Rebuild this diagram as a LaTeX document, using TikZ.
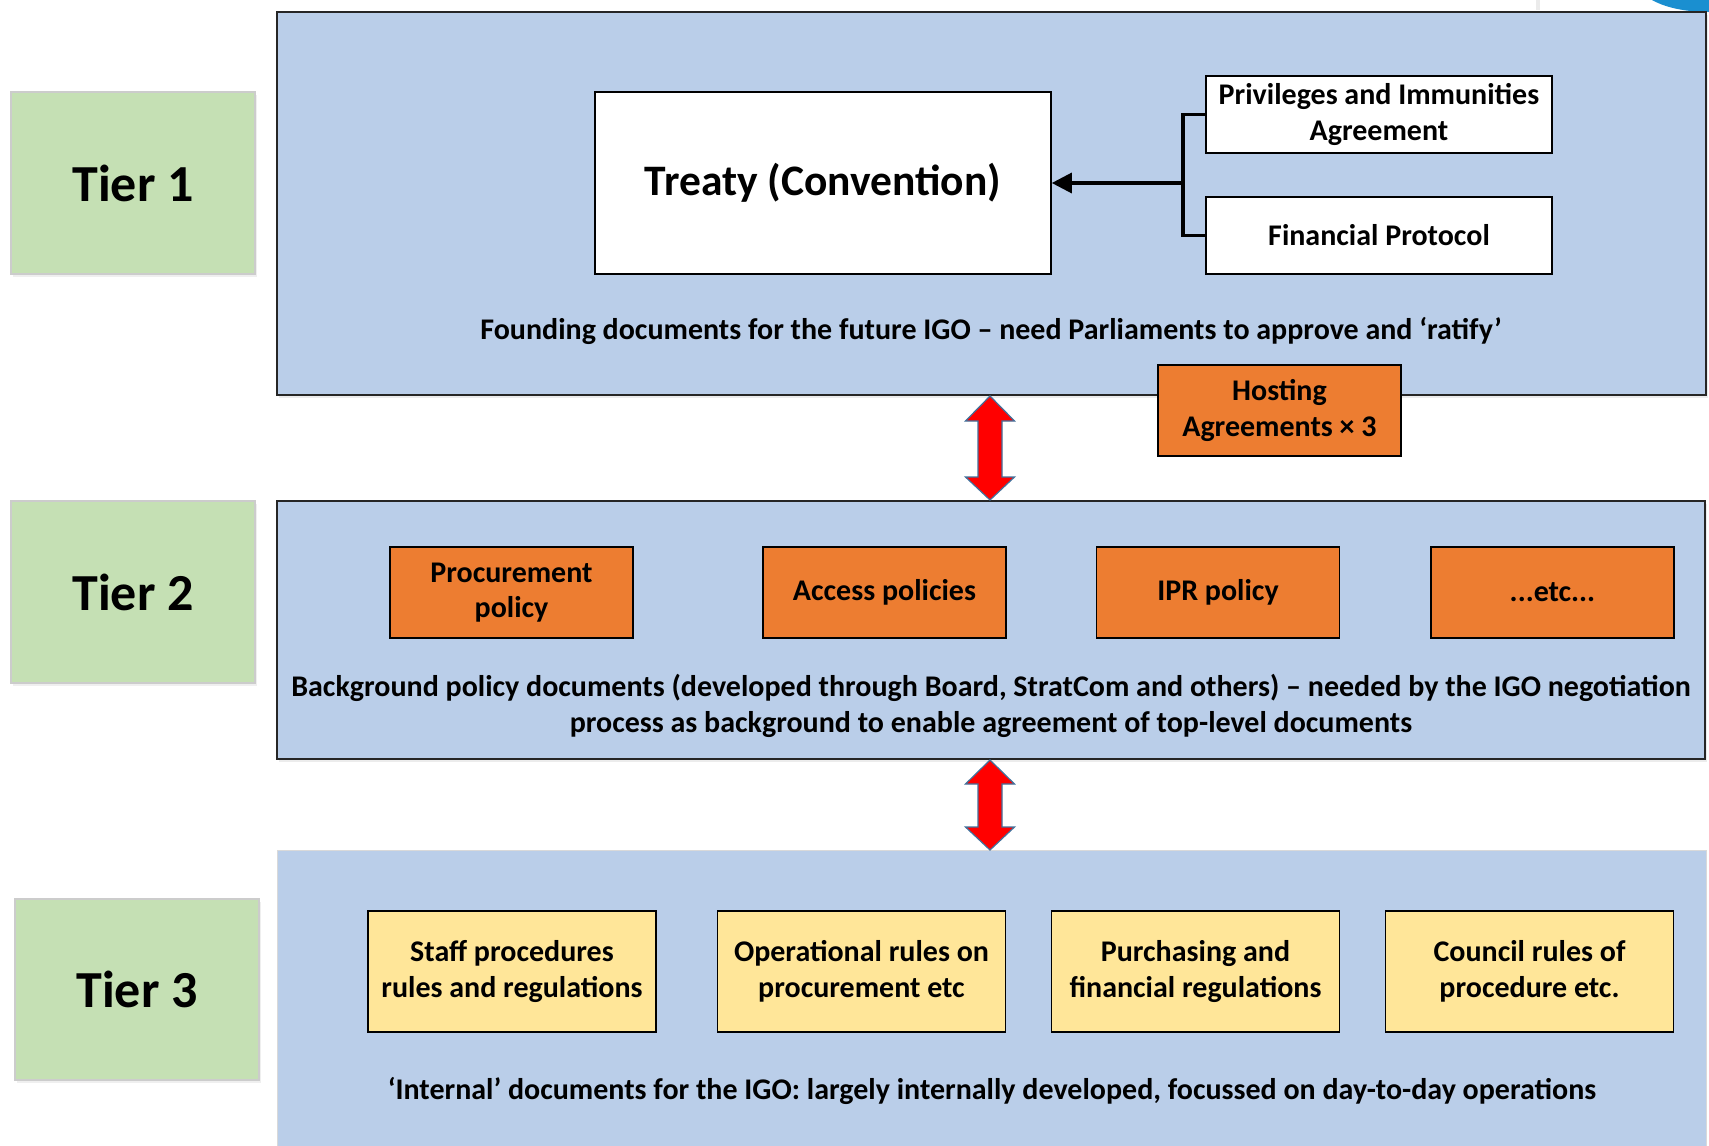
\documentclass[tikz,border=0pt]{standalone}
\usepackage{fontspec}
\setmainfont{Carlito}
\usetikzlibrary{arrows.meta,shadows}
\definecolor{tierblue}{HTML}{BACEE9}
\definecolor{tiergreen}{HTML}{C5E0B4}
\definecolor{orangebox}{HTML}{ED7D31}
\definecolor{yellowbox}{HTML}{FFE699}
\definecolor{arrowedge}{HTML}{41719C}
\definecolor{artblue}{HTML}{1A8FD0}
\begin{document}
\begin{tikzpicture}[x=1pt,y=-1pt,
  txt/.style={font=\bfseries\fontsize{30}{35.5}\selectfont, align=center, inner sep=0pt},
  panel/.style={fill=tierblue, draw=black!85, line width=1.6pt, drop shadow={opacity=0.15, shadow xshift=2pt, shadow yshift=-3pt}},
  tierbox/.style={fill=tiergreen, draw=black!20, line width=1.2pt, inner sep=0pt,
     font=\bfseries\fontsize{52}{60}\selectfont, drop shadow={opacity=0.12, shadow xshift=2pt, shadow yshift=-3pt}},
  wbox/.style={txt, fill=white, draw=black, line width=1.6pt},
  obox/.style={txt, fill=orangebox, draw=black, line width=1.6pt, minimum width=243pt, minimum height=91pt},
  ybox/.style={txt, fill=yellowbox, draw=black, line width=1.6pt, minimum width=288pt, minimum height=121pt},
  redarrow/.style={fill=red, draw=arrowedge, line width=1.2pt, line join=miter},
  conn/.style={line width=3.2pt, draw=black}
]
\useasboundingbox (0,0) rectangle (1709,1146);
\fill[white] (0,0) rectangle (1709,1146);

% artefact in the top-right corner
\fill[artblue] (1652,0) .. controls (1668,9) and (1690,12) .. (1709,12) -- (1709,0) -- cycle;
\fill[black!8] (1536,0) rectangle (1540,10);

% panels
\path[panel] (277,12) rectangle (1706,395);
\path[panel] (277,501) rectangle (1705,759);
\path[fill=tierblue, draw=black!15, line width=1pt] (277,850) rectangle (1706,1150);

% tier labels
\node[tierbox, minimum width=244pt, minimum height=182pt] (t1) at (133,183) {Tier 1};
\node[tierbox, minimum width=244pt, minimum height=182pt] (t2) at (133,592) {Tier 2};
\node[tierbox, minimum width=244pt, minimum height=181pt] (t3) at (137,989.5) {Tier 3};

% Tier 1 content
\node[wbox, minimum width=456pt, minimum height=182pt, font=\bfseries\fontsize{43.5}{50}\selectfont] (treaty) at (823,183) {Treaty (Convention)};
\node[wbox, minimum width=346pt, minimum height=77pt] (pia) at (1379,114.5) {Privileges and Immunities\\Agreement};
\node[wbox, minimum width=346pt, minimum height=77pt] (fp) at (1379,235.5) {Financial Protocol};
\coordinate (junc) at (1183,183);
\draw[conn] (pia.west) -- (pia.west -| junc) -- (fp.west -| junc) -- (fp.west);
\draw[conn, -{Triangle[length=20pt,width=20pt]}] (junc) -- (treaty.east);
\node[txt] (found) at (991,331) {Founding documents for the future IGO -- need Parliaments to approve and `ratify'};
\node[obox] (host) at (1279.5,410.5) {Hosting\\Agreements × 3};

% Tier 2 content
\node[obox] (proc) at (511.5,592.5) {Procurement\\policy};
\node[obox] (acc) at (884.5,592.5) {Access policies};
\node[obox] (ipr) at (1218,592.5) {IPR policy};
\node[obox] (etc) at (1552.5,592.5) {...etc...};
\node[txt] (bg) at (991,706) {Background policy documents (developed through Board, StratCom and others) -- needed by the IGO negotiation\\process as background to enable agreement of top-level documents};

% Tier 3 content
\node[ybox] (staff) at (512,971.5) {Staff procedures\\rules and regulations};
\node[ybox] (oper) at (861.5,971.5) {Operational rules on\\procurement etc};
\node[ybox] (purch) at (1195.5,971.5) {Purchasing and\\financial regulations};
\node[ybox] (council) at (1529.5,971.5) {Council rules of\\procedure etc.};
\node[txt] (intern) at (992,1091) {`Internal' documents for the IGO: largely internally developed, focussed on day-to-day operations};

% red double arrows
\coordinate (a1top) at (990,396);
\coordinate (a1bot) at (990,500);
\draw[redarrow] (a1top) -- ++(24.5,25) -- ++(-12.5,0) -- (1002,477) -- ++(12.5,0) -- (a1bot)
  -- ++(-24.5,-23) -- ++(12.5,0) -- (978,421) -- ++(-12.5,0) -- cycle;
\coordinate (a2top) at (990,760);
\coordinate (a2bot) at (990,850);
\draw[redarrow] (a2top) -- ++(24.5,24) -- ++(-12.5,0) -- (1002,827) -- ++(12.5,0) -- (a2bot)
  -- ++(-24.5,-23) -- ++(12.5,0) -- (978,784) -- ++(-12.5,0) -- cycle;
\end{tikzpicture}
\end{document}
